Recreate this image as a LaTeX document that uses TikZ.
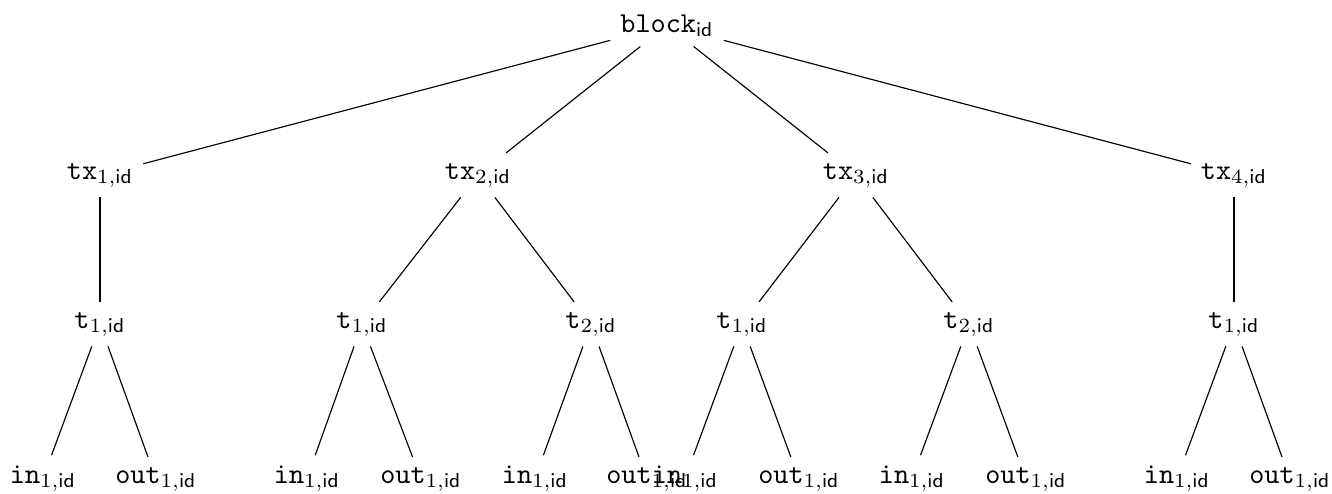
\documentclass[tikz,border=0pt]{standalone}
\begin{document}
\begin{tikzpicture}[x=0.3472pt, y=-0.3472pt,
  treenode/.style={anchor=base, inner sep=0.333em},
  treeedge/.style={draw, line width=0.4pt}]
\useasboundingbox (0,0) rectangle (1332,493);

% root
\node[treenode] (root) at (667,32) {$\mathtt{block}_{\mathsf{id}}$};

% transactions
\node[treenode] (tx1) at (100,179)  {$\mathtt{tx}_{1,\mathsf{id}}$};
\node[treenode] (tx2) at (478,179)  {$\mathtt{tx}_{2,\mathsf{id}}$};
\node[treenode] (tx3) at (856,179)  {$\mathtt{tx}_{3,\mathsf{id}}$};
\node[treenode] (tx4) at (1234,179) {$\mathtt{tx}_{4,\mathsf{id}}$};

% transfers
\node[treenode] (t11) at (100,328)  {$\mathtt{t}_{1,\mathsf{id}}$};
\node[treenode] (t21) at (362,328)  {$\mathtt{t}_{1,\mathsf{id}}$};
\node[treenode] (t22) at (591,328)  {$\mathtt{t}_{2,\mathsf{id}}$};
\node[treenode] (t31) at (742,328)  {$\mathtt{t}_{1,\mathsf{id}}$};
\node[treenode] (t32) at (969,328)  {$\mathtt{t}_{2,\mathsf{id}}$};
\node[treenode] (t41) at (1234,328) {$\mathtt{t}_{1,\mathsf{id}}$};

% inputs and outputs
\node[treenode] (i11) at (43,483)   {$\mathtt{in}_{1,\mathsf{id}}$};
\node[treenode] (o11) at (156,483)  {$\mathtt{out}_{1,\mathsf{id}}$};
\node[treenode] (i21) at (307,483)  {$\mathtt{in}_{1,\mathsf{id}}$};
\node[treenode] (o21) at (421,483)  {$\mathtt{out}_{1,\mathsf{id}}$};
\node[treenode] (i22) at (535,483)  {$\mathtt{in}_{1,\mathsf{id}}$};
\node[treenode] (o22) at (647,483)  {$\mathtt{out}_{1,\mathsf{id}}$};
\node[treenode] (i31) at (685,483)  {$\mathtt{in}_{1,\mathsf{id}}$};
\node[treenode] (o31) at (799,483)  {$\mathtt{out}_{1,\mathsf{id}}$};
\node[treenode] (i32) at (912,483)  {$\mathtt{in}_{1,\mathsf{id}}$};
\node[treenode] (o32) at (1026,483) {$\mathtt{out}_{1,\mathsf{id}}$};
\node[treenode] (i41) at (1177,483) {$\mathtt{in}_{1,\mathsf{id}}$};
\node[treenode] (o41) at (1290,483) {$\mathtt{out}_{1,\mathsf{id}}$};

% edges
\foreach \a/\b in {root/tx1, root/tx2, root/tx3, root/tx4,
                   tx1/t11, tx2/t21, tx2/t22, tx3/t31, tx3/t32, tx4/t41,
                   t11/i11, t11/o11, t21/i21, t21/o21, t22/i22, t22/o22,
                   t31/i31, t31/o31, t32/i32, t32/o32, t41/i41, t41/o41}
  \path[treeedge] (\a) -- (\b);
\end{tikzpicture}
\end{document}
